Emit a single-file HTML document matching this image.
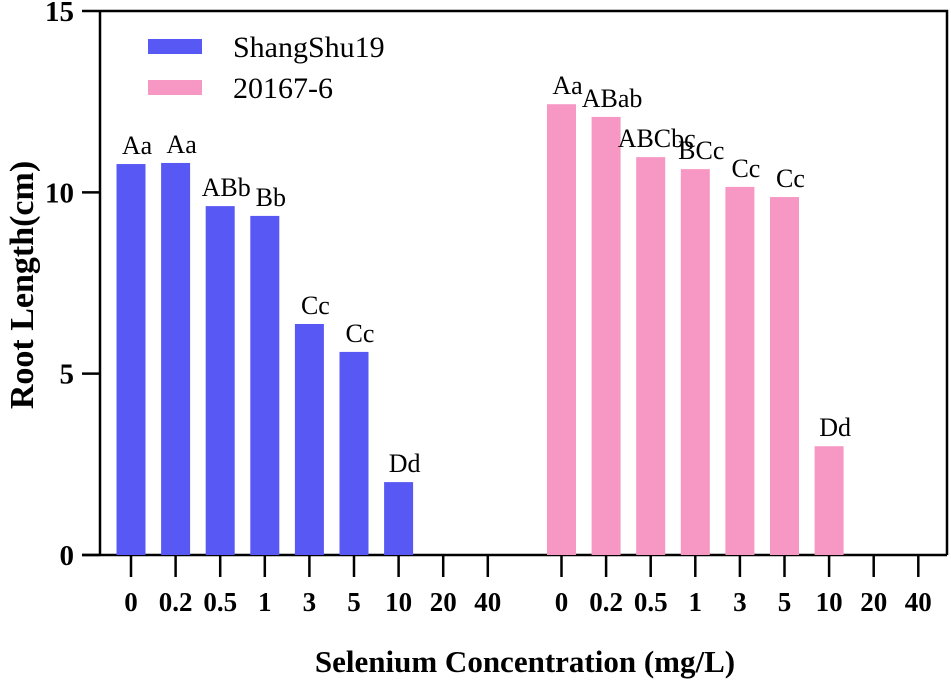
<!DOCTYPE html>
<html><head><meta charset="utf-8"><style>
html,body{margin:0;padding:0;background:#fff;}
svg{display:block;}
svg text{font-family:"Liberation Serif","DejaVu Serif",serif;}
</style></head><body>
<svg id="chart" width="951" height="681" viewBox="0 0 951 681"></svg>
<script>
const categories = ["0","0.2","0.5","1","3","5","10","20","40"];
const shangshuValues = [10.78, 10.81, 9.62, 9.35, 6.37, 5.6, 2.01, 0, 0];
const shangshuLabels = ["Aa","Aa","ABb","Bb","Cc","Cc","Dd","",""];
const pinkValues = [12.43, 12.08, 10.97, 10.64, 10.15, 9.87, 3.0, 0, 0];
const pinkLabels = ["Aa","ABab","ABCbc","BCc","Cc","Cc","Dd","",""];
const yTicks = [0, 5, 10, 15];

const NS = "http://www.w3.org/2000/svg";
const svg = document.getElementById("chart");
const FONT = '"Liberation Serif", "DejaVu Serif", serif';
function mk(tag, attrs, parent) {
  const e = document.createElementNS(NS, tag);
  for (const k in attrs) e.setAttribute(k, attrs[k]);
  if (tag === "text") e.setAttribute("font-family", FONT);
  (parent || svg).appendChild(e);
  return e;
}
const y0 = 555, yTop = 11, yMax = 15;
function yScale(v) { return y0 - (v / yMax) * (y0 - yTop); }
const step = 44.6;
function xScale(group, i) { return (group === 0 ? 131 : 561.5) + i * step; }
const bw = 29;

const frame = mk("path", {d:"M100 "+yTop+" L947 "+yTop+" L947 "+y0+" M100 "+yTop+" L100 "+y0, stroke:"#000", "stroke-width":2.5, fill:"none"});


const xAxis = mk("line", {x1:82, y1:y0, x2:947, y2:y0, stroke:"#000", "stroke-width":2.5});



yTicks.forEach(t => {
  const y = yScale(t);
  const tk = mk("line", {x1:82, y1:y, x2:100, y2:y, stroke:"#000", "stroke-width":2.5});
  
  
  const lb = mk("text", {x:74, y:y+10, "text-anchor":"end", "font-size":29, "font-weight":"bold"});
  lb.textContent = t;
  
  
});

const series = [
  {vals: shangshuValues, labels: shangshuLabels, color:"#5858f5", name:"shangshu19"},
  {vals: pinkValues, labels: pinkLabels, color:"#f797c4", name:"20167-6"}
];
series.forEach((s, g) => {
  categories.forEach((c, i) => {
    const cx = xScale(g, i);
    const v = s.vals[i];
    if (v > 0) {
      const r = mk("rect", {x:cx - bw/2, y:yScale(v), width:bw, height:y0 - yScale(v), fill:s.color});
      
      
    }
    if (s.labels[i]) {
      const t = mk("text", {x:cx + 6, y:yScale(v) - 10, "text-anchor":"middle", "font-size":26});
      t.textContent = s.labels[i];
      
      
    }
    const tk = mk("line", {x1:cx, y1:y0, x2:cx, y2:y0 + 22, stroke:"#000", "stroke-width":2.5});
    
    
    const lb = mk("text", {x:cx, y:611, "text-anchor":"middle", "font-size":27, "font-weight":"bold"});
    lb.textContent = c;
    
    
  });
});

const lg = [["ShangShu19","#5858f5",46],["20167-6","#f797c4",87]];
lg.forEach(l => {
  const r = mk("rect", {x:148, y:l[2]-7, width:54, height:15, fill:l[1]});
  
  
  const t = mk("text", {x:233, y:l[2]+11, "font-size":30});
  t.textContent = l[0];
  
  
});

const xt = mk("text", {x:525, y:672, "text-anchor":"middle", "font-size":31, "font-weight":"bold"});
xt.textContent = "Selenium Concentration (mg/L)";


const yt = mk("text", {x:0, y:0, "text-anchor":"middle", "font-size":34, "font-weight":"bold", transform:"translate(33,285) rotate(-90)"});
yt.textContent = "Root Length(cm)";


</script>
</body></html>
